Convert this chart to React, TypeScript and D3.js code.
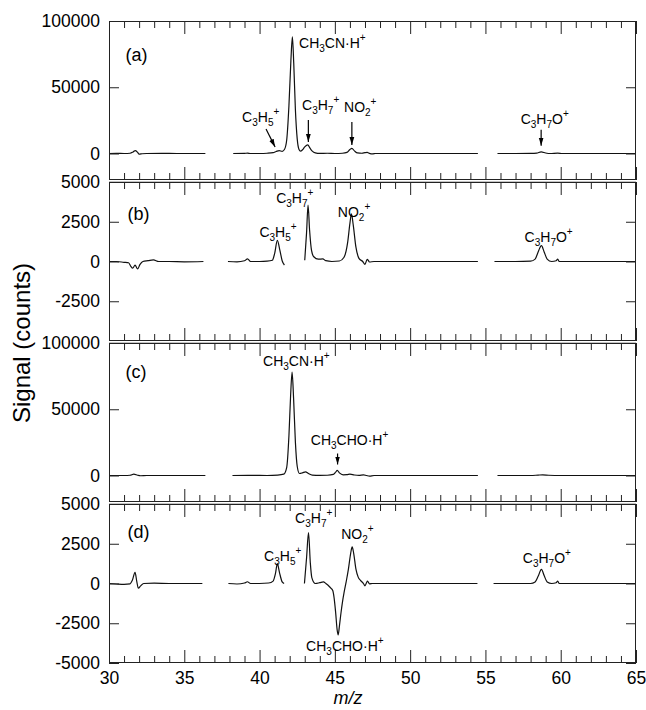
import { useEffect, useRef } from 'react';
import * as d3 from 'd3';

type Pt = [number, number];
type Part = [string, 'n' | 'sub' | 'sup'];
type Label = { mz: number; v: number; parts: Part[]; size?: number };
type Arrow = { mz1: number; v1: number; mz2: number; v2: number };

const W = 646;
const H = 710;
const LEFT = 109;
const RIGHT = 636;
const PANEL_TOP = 21;
const PANEL_H = 159;
const GAP = 2;

const X_DOMAIN: [number, number] = [30, 65];
const X_MAJOR = [30, 35, 40, 45, 50, 55, 60, 65];
const X_MINOR = d3.range(31, 65).filter(v => v % 5 !== 0);

// ---- (a) spectrum, three scan windows
const SPEC_A: Pt[][] = [
    [[30, 0], [30.5, 100], [31.0, 0], [31.4, 200], [31.6, 1200], [31.75, 2200], [31.9, 800], [32.0, -500],
     [32.2, -200], [32.5, 0], [33.5, 100], [34.5, 0], [35.5, 0], [36.4, 0]],
    [[38.25, 0], [39.0, 100], [39.2, 300], [39.4, 0], [40.0, 0], [40.5, 200], [40.9, 700], [41.1, 1500],
     [41.3, 2200], [41.5, 1600], [41.65, 3000], [41.8, 10000], [41.95, 36000], [42.08, 70000], [42.18, 88000],
     [42.27, 68000], [42.38, 33000], [42.5, 11000], [42.62, 3000], [42.72, 1800], [42.85, 2800], [43.0, 5000],
     [43.2, 6500], [43.35, 4000], [43.5, 1800], [43.7, 500], [44.0, 100], [44.5, 200], [45.0, 0], [45.5, 200],
     [45.8, 800], [46.0, 3000], [46.13, 3900], [46.3, 2000], [46.5, 400], [46.8, 200], [47.0, 600], [47.15, 800],
     [47.3, 100], [47.5, -300], [47.7, 0], [48.5, 0], [50, 0], [52, 0], [54.5, 0]],
    [[55.8, 0], [57, 0], [58, 100], [58.4, 300], [58.7, 1200], [59.0, 400], [59.3, 0], [59.8, 300], [60.1, 0],
     [61, 0], [63, 0], [65, 0]],
];

// ---- (b)
const SPEC_B: Pt[][] = [
    [[30, 0], [30.5, 0], [31.0, -50], [31.3, -80], [31.45, -300], [31.57, -420], [31.73, -230], [31.9, -470],
     [32.05, -200], [32.25, 0], [32.6, 50], [32.95, 100], [33.3, 0], [34, 0], [35, -20], [36.27, 0]],
    [[37.9, 0], [38.5, -20], [39.0, 50], [39.2, 160], [39.4, 0], [40.0, 0], [40.5, 20], [40.85, 80], [41.0, 500],
     [41.18, 1330], [41.35, 700], [41.5, 50], [41.65, -220]],
    [[43.0, 80], [43.12, 1800], [43.22, 3550], [43.32, 2000], [43.45, 700], [43.6, 300], [43.9, 150], [44.2, 160],
     [44.4, 50], [44.8, 0], [45.3, 30], [45.6, 250], [45.85, 1200], [46.0, 2400], [46.1, 2990], [46.22, 2300],
     [46.4, 900], [46.6, 200], [46.85, 0], [47.0, -180], [47.1, 50], [47.16, 140], [47.3, -30], [47.6, 0],
     [49, 0], [51, 0], [54.5, 0]],
    [[55.6, 0], [57, 0], [58, 20], [58.3, 150], [58.5, 600], [58.72, 1000], [58.9, 600], [59.1, 150], [59.4, 0],
     [59.7, 50], [59.8, 150], [59.9, 0], [60.5, 0], [62, 0], [65, 0]],
];

// ---- (c)
const SPEC_C: Pt[][] = [
    [[30, 0], [31.0, 0], [31.4, 200], [31.65, 1000], [31.9, 200], [32.1, -200], [32.5, 0], [34, 0], [36.4, 0]],
    [[38.2, 0], [39.5, 100], [40.5, 0], [41.2, 300], [41.6, 1000], [41.8, 6000], [41.95, 30000], [42.06, 60000],
     [42.16, 78000], [42.26, 58000], [42.38, 25000], [42.5, 7000], [42.65, 1500], [42.85, 2000], [43.05, 2800],
     [43.25, 1500], [43.5, 300], [44.0, 100], [44.5, 200], [44.9, 800], [45.05, 2500], [45.16, 3800], [45.3, 2000],
     [45.55, 500], [45.8, 600], [46.0, 1000], [46.3, 400], [46.6, 100], [46.9, 500], [47.1, 0], [47.3, -500],
     [47.6, 0], [49, 0], [54.5, 0]],
    [[55.8, 0], [58, 0], [58.5, 300], [58.8, 500], [59.2, 200], [60, 0], [62, 0], [65, 0]],
];

// ---- (d)
const SPEC_D: Pt[][] = [
    [[30, 0], [30.5, -30], [31.0, -50], [31.4, -20], [31.55, 200], [31.73, 700], [31.85, 100], [31.95, -300],
     [32.1, -150], [32.3, 0], [33, 20], [34, 0], [35, 0], [36.2, 0]],
    [[37.93, 0], [38.5, -30], [39.0, 30], [39.19, 110], [39.4, 0], [40.0, 0], [40.6, 30], [40.9, 150], [41.05, 600],
     [41.18, 1245], [41.32, 700], [41.5, 100], [41.63, 0]],
    [[42.98, 0], [43.12, 1600], [43.25, 3200], [43.37, 1300], [43.47, 370], [43.7, 0], [44.0, 50], [44.24, 100],
     [44.4, 0], [44.57, -130], [44.75, -300], [44.86, -440], [44.95, -900], [45.05, -1800], [45.15, -2900],
     [45.22, -3230], [45.3, -2700], [45.4, -1900], [45.5, -1200], [45.61, -580], [45.75, 100], [45.9, 900],
     [46.05, 1900], [46.15, 2300], [46.25, 1900], [46.4, 900], [46.55, 400], [46.7, 200], [46.9, 0], [47.0, -150],
     [47.1, 50], [47.17, 150], [47.3, -20], [47.5, 0], [49, 0], [51, 0], [54.47, 0]],
    [[55.54, 0], [57, 0], [58, 0], [58.3, 100], [58.5, 450], [58.72, 890], [58.9, 500], [59.1, 100], [59.4, 0],
     [59.7, 50], [59.8, 150], [59.9, 0], [61, 0], [65, 0]],
];

const CH3CNH: Part[] = [['CH', 'n'], ['3', 'sub'], ['CN·H', 'n'], ['+', 'sup']];
const CH3CHOH: Part[] = [['CH', 'n'], ['3', 'sub'], ['CHO·H', 'n'], ['+', 'sup']];
const C3H5: Part[] = [['C', 'n'], ['3', 'sub'], ['H', 'n'], ['5', 'sub'], ['+', 'sup']];
const C3H7: Part[] = [['C', 'n'], ['3', 'sub'], ['H', 'n'], ['7', 'sub'], ['+', 'sup']];
const NO2: Part[] = [['NO', 'n'], ['2', 'sub'], ['+', 'sup']];
const C3H7O: Part[] = [['C', 'n'], ['3', 'sub'], ['H', 'n'], ['7', 'sub'], ['O', 'n'], ['+', 'sup']];

const LABELS_A: Label[] = [
    { mz: 31.1, v: 70000, parts: [['(a)', 'n']], size: 18 },
    { mz: 42.62, v: 80000, parts: CH3CNH },
    { mz: 38.84, v: 23800, parts: C3H5 },
    { mz: 42.82, v: 32800, parts: C3H7 },
    { mz: 45.61, v: 31300, parts: NO2 },
    { mz: 57.34, v: 22600, parts: C3H7O },
];
const ARROWS_A: Arrow[] = [
    { mz1: 40.43, v1: 18500, mz2: 41.03, v2: 4900 },
    { mz1: 43.24, v1: 25300, mz2: 43.24, v2: 8700 },
    { mz1: 46.13, v1: 23800, mz2: 46.13, v2: 6400 },
    { mz1: 58.7, v1: 18000, mz2: 58.7, v2: 5900 },
];
const LABELS_B: Label[] = [
    { mz: 31.23, v: 2610, parts: [['(b)', 'n']], size: 18 },
    { mz: 41.1, v: 3660, parts: C3H7 },
    { mz: 39.99, v: 1560, parts: C3H5 },
    { mz: 45.2, v: 2820, parts: NO2 },
    { mz: 57.6, v: 1250, parts: C3H7O },
];
const LABELS_C: Label[] = [
    { mz: 31.1, v: 73500, parts: [['(c)', 'n']], size: 18 },
    { mz: 40.23, v: 82500, parts: CH3CNH },
    { mz: 43.4, v: 22700, parts: CH3CHOH },
];
const ARROWS_C: Arrow[] = [{ mz1: 45.18, v1: 16600, mz2: 45.18, v2: 8300 }];
const LABELS_D: Label[] = [
    { mz: 31.23, v: 2880, parts: [['(d)', 'n']], size: 18 },
    { mz: 42.36, v: 3800, parts: C3H7 },
    { mz: 40.3, v: 1420, parts: C3H5 },
    { mz: 45.42, v: 2800, parts: NO2 },
    { mz: 57.48, v: 1310, parts: C3H7O },
    { mz: 43.09, v: -4250, parts: CH3CHOH },
];

const PANELS = [
    { domain: [-20000, 100000], ticks: [0, 50000, 100000], spec: SPEC_A, labels: LABELS_A, arrows: ARROWS_A },
    { domain: [-5000, 5000], ticks: [-2500, 0, 2500, 5000], spec: SPEC_B, labels: LABELS_B, arrows: [] as Arrow[] },
    { domain: [-20000, 100000], ticks: [0, 50000, 100000], spec: SPEC_C, labels: LABELS_C, arrows: ARROWS_C },
    { domain: [-5000, 5000], ticks: [-5000, -2500, 0, 2500, 5000], spec: SPEC_D, labels: LABELS_D, arrows: [] as Arrow[] },
];

const FONT = '"Liberation Sans", Arial, Helvetica, sans-serif';

export default function App() {
    const svgRef = useRef<SVGSVGElement | null>(null);

    useEffect(() => {
        if (!svgRef.current) return;
        const svg = d3.select(svgRef.current);
        svg.selectAll('*').remove();

        svg.append('defs').append('marker')
            .attr('id', 'arrowhead')
            .attr('viewBox', '0 0 10 10')
            .attr('refX', 10).attr('refY', 5)
            .attr('markerUnits', 'userSpaceOnUse')
            .attr('markerWidth', 8).attr('markerHeight', 8)
            .attr('orient', 'auto')
            .append('path').attr('d', 'M0,2 L10,5 L0,8 Z').attr('fill', '#000');

        const x = d3.scaleLinear().domain(X_DOMAIN).range([LEFT, RIGHT]);

        PANELS.forEach((p, i) => {
            const top = PANEL_TOP + i * (PANEL_H + GAP);
            const bottom = top + PANEL_H;
            const y = d3.scaleLinear().domain(p.domain).range([bottom, top]);
            const g = svg.append('g');

            // gap band between panels
            if (i > 0) {
                g.append('rect')
                    .attr('x', LEFT).attr('y', top - GAP + 1)
                    .attr('width', RIGHT - LEFT).attr('height', GAP - 1)
                    .attr('fill', '#c4c4c4');
            }

            // spectrum segments
            const line = d3.line<Pt>()
                .x(d => x(d[0]))
                .y(d => y(d[1]))
                .curve(d3.curveMonotoneX);
            p.spec.forEach(seg => {
                g.append('path')
                    .datum(seg)
                    .attr('d', line)
                    .attr('fill', 'none')
                    .attr('stroke', '#111')
                    .attr('stroke-width', 1.2)
                    .attr('stroke-linejoin', 'round');
            });

            // x ticks, inside, top and bottom
            const xTicks = (pos: number, dir: number, vals: number[], len: number) => {
                const axis = dir > 0 ? d3.axisBottom(x) : d3.axisTop(x);
                const a = g.append('g')
                    .attr('transform', `translate(0,${pos})`)
                    .call(axis.tickValues(vals).tickSize(-len).tickSizeOuter(0).tickFormat(() => ''));
                a.select('.domain').remove();
                a.selectAll('line').attr('stroke', '#222');
            };
            xTicks(top, -1, X_MINOR, 7);
            xTicks(top, -1, X_MAJOR, 13);
            xTicks(bottom, 1, X_MINOR, 7);
            xTicks(bottom, 1, X_MAJOR, 13);

            // y ticks left (labelled) and right
            const yl = g.append('g')
                .attr('transform', `translate(${LEFT},0)`)
                .call(d3.axisLeft(y).tickValues(p.ticks).tickSize(-10).tickSizeOuter(0).tickPadding(9)
                    .tickFormat(d => `${d}`));
            yl.select('.domain').remove();
            yl.selectAll('line').attr('stroke', '#222');
            yl.selectAll('text').style('font-family', FONT).style('font-size', '17.5px').attr('fill', '#000');

            const yr = g.append('g')
                .attr('transform', `translate(${RIGHT},0)`)
                .call(d3.axisRight(y).tickValues(p.ticks).tickSize(-10).tickSizeOuter(0).tickFormat(() => ''));
            yr.select('.domain').remove();
            yr.selectAll('line').attr('stroke', '#222');

            // frame
            g.append('rect')
                .attr('x', LEFT + 0.5).attr('y', top + 0.5)
                .attr('width', RIGHT - LEFT - 1).attr('height', PANEL_H - 1)
                .attr('fill', 'none').attr('stroke', '#222').attr('stroke-width', 1);

            // bottom axis labels for last panel
            if (i === PANELS.length - 1) {
                const xb = g.append('g')
                    .attr('transform', `translate(0,${bottom})`)
                    .call(d3.axisBottom(x).tickValues(X_MAJOR).tickSize(0).tickPadding(9).tickFormat(d => `${d}`));
                xb.select('.domain').remove();
                xb.selectAll('text').style('font-family', FONT).style('font-size', '17.5px').attr('fill', '#000');
            }

            // arrows
            p.arrows.forEach(a => {
                g.append('line')
                    .attr('x1', x(a.mz1)).attr('y1', y(a.v1))
                    .attr('x2', x(a.mz2)).attr('y2', y(a.v2))
                    .attr('stroke', '#000').attr('stroke-width', 1.2)
                    .attr('marker-end', 'url(#arrowhead)');
            });

            // labels with sub/superscripts
            p.labels.forEach(l => {
                const size = l.size || 14;
                const t = g.append('text')
                    .attr('x', x(l.mz)).attr('y', y(l.v))
                    .style('font-family', FONT).style('font-size', `${size}px`).attr('fill', '#000');
                let shift = 0;
                l.parts.forEach(([s, kind]) => {
                    const target = kind === 'sub' ? 4 : kind === 'sup' ? -7 : 0;
                    t.append('tspan')
                        .attr('dy', target - shift)
                        .style('font-size', kind === 'n' ? `${size}px` : '10px')
                        .text(s);
                    shift = target;
                });
            });
        });

        // axis titles
        svg.append('text')
            .attr('transform', `translate(30,${PANEL_TOP + 2 * (PANEL_H + GAP)}) rotate(-90)`)
            .attr('text-anchor', 'middle')
            .style('font-family', FONT).style('font-size', '24px')
            .text('Signal (counts)');

        svg.append('text')
            .attr('x', 348).attr('y', 704)
            .attr('text-anchor', 'middle')
            .style('font-family', FONT).style('font-size', '18px').style('font-style', 'italic')
            .text('m/z');
    }, []);

    return (
        <svg ref={svgRef} width={W} height={H}
            style={{ position: 'absolute', left: 0, top: 0, background: '#fff' }} />
    );
}
